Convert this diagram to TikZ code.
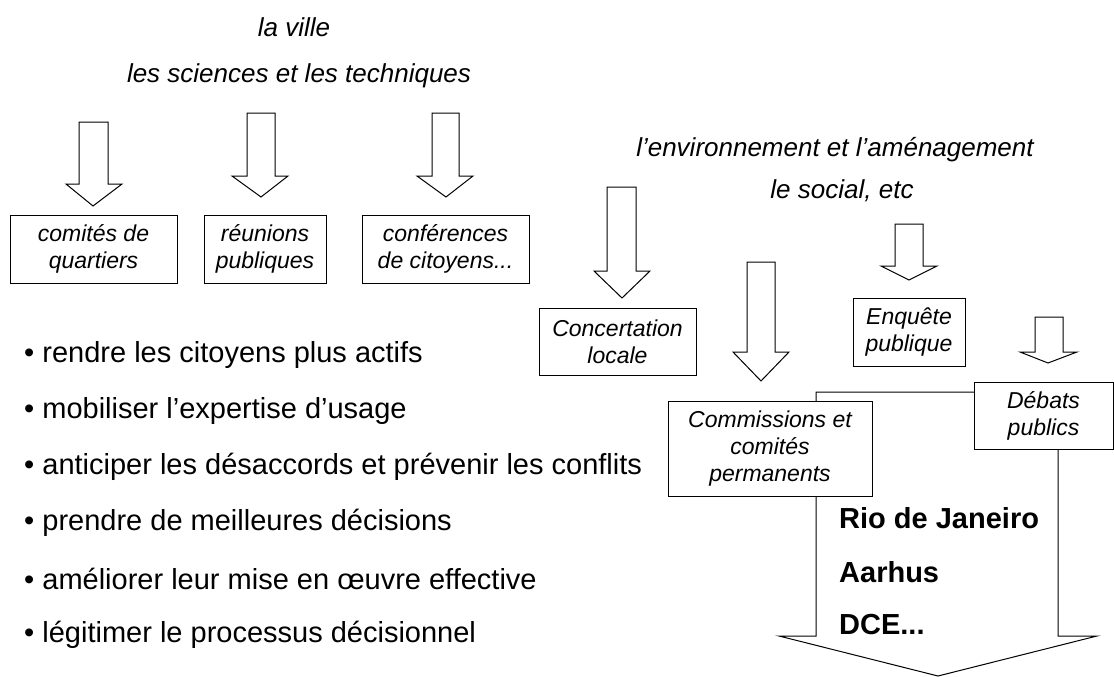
\documentclass[tikz,border=0pt]{standalone}
\usepackage{fontspec}
\setmainfont{Liberation Sans}
\usepackage{tikz}
\tikzstyle{cadre}=[draw=black, fill=white, line width=1pt, inner sep=0pt, align=center, font=\itshape\fontsize{23}{27}\selectfont]
\tikzstyle{fleche}=[draw=black, fill=white, line width=1pt, line join=miter]
\tikzstyle{theme}=[inner sep=0pt, font=\itshape\fontsize{26}{30}\selectfont]
\tikzstyle{puce}=[anchor=west, inner sep=0pt, font=\fontsize{29}{34}\selectfont]
\tikzstyle{lieu}=[anchor=west, inner sep=0pt, font=\bfseries\fontsize{29}{34}\selectfont]

\begin{document}
\begin{tikzpicture}[x=1pt, y=-1pt]

				\useasboundingbox (0,0) rectangle (1114,677);

				% themes
				\node[theme] (t_1) at (294, 27) {la ville};
				\node[theme] (t_2) at (299, 76) {les sciences et les techniques};
				\node[theme] (t_3) at (835, 150) {l’environnement et l’aménagement};
				\node[theme] (t_4) at (842, 191) {le social, etc};

				% fleches du haut
				\draw[fleche] (79,122) -- (108,122) -- (108,184) -- (122,184) -- (93,206) -- (66,184) -- (79,184) -- cycle;
				\draw[fleche] (247,113) -- (275,113) -- (275,176) -- (288,176) -- (261,197) -- (232,176) -- (247,176) -- cycle;
				\draw[fleche] (432,113) -- (459,113) -- (459,176) -- (473,176) -- (446,197) -- (417,176) -- (432,176) -- cycle;
				\draw[fleche] (607,187) -- (636,187) -- (636,271) -- (650,271) -- (622,298) -- (594,271) -- (607,271) -- cycle;
				\draw[fleche] (747,262) -- (775,262) -- (775,352) -- (789,352) -- (761,381) -- (733,352) -- (747,352) -- cycle;
				\draw[fleche] (895,224) -- (923,224) -- (923,266) -- (937,266) -- (909,280) -- (881,266) -- (895,266) -- cycle;
				\draw[fleche] (1035,317) -- (1063,317) -- (1063,352) -- (1077,352) -- (1048,363) -- (1020,352) -- (1035,352) -- cycle;

				% grande fleche
				\draw[fleche] (816,392) -- (1058,392) -- (1058,636) -- (1097,636) -- (938,676) -- (779,636) -- (816,636) -- cycle;

				\node[cadre, minimum width=167, minimum height=68] (c_1) at (93.5, 249) {comités de\\quartiers};
				\node[cadre, minimum width=122, minimum height=68] (c_2) at (265, 249) {réunions\\publiques};
				\node[cadre, minimum width=167, minimum height=68] (c_3) at (445.5, 249) {conférences\\de citoyens...};

				\node[cadre, minimum width=157, minimum height=67] (d_1) at (617.5, 341.5) {Concertation\\locale};
				\node[cadre, minimum width=112, minimum height=68] (d_2) at (909, 332) {Enquête\\publique};
				\node[cadre, minimum width=204, minimum height=95] (d_3) at (770, 448.5) {Commissions et\\comités\\permanents};
				\node[cadre, minimum width=139, minimum height=67] (d_4) at (1043.5, 415.5) {Débats\\publics};

				% objectifs
				\node[puce] (p_1) at (24, 355) {• rendre les citoyens plus actifs};
				\node[puce] (p_2) at (24, 411) {• mobiliser l’expertise d’usage};
				\node[puce] (p_3) at (24, 467) {• anticiper les désaccords et prévenir les conflits};
				\node[puce] (p_4) at (24, 523) {• prendre de meilleures décisions};
				\node[puce] (p_5) at (24, 579) {• améliorer leur mise en œuvre effective};
				\node[puce] (p_6) at (24, 635) {• légitimer le processus décisionnel};

				\node[lieu] (l_1) at (839, 518) {Rio de Janeiro};
				\node[lieu] (l_2) at (839, 572) {Aarhus};
				\node[lieu] (l_3) at (839, 625) {DCE...};
			\end{tikzpicture}
\end{document}
